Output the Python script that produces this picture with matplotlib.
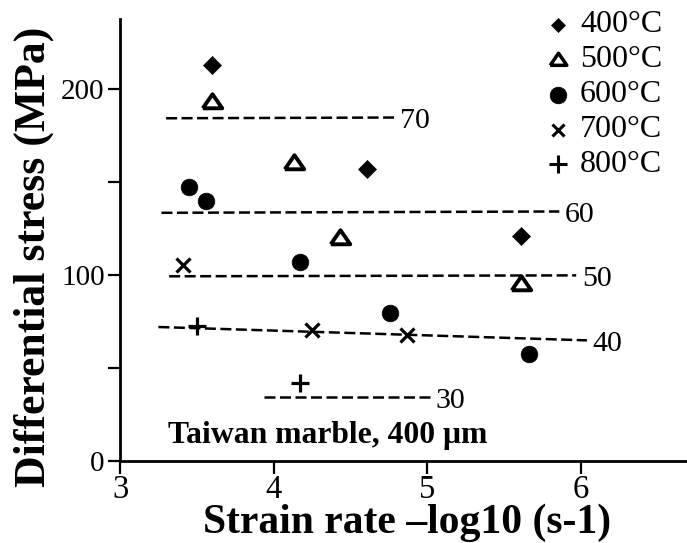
import matplotlib
matplotlib.use("Agg")
import matplotlib.pyplot as plt
from matplotlib.markers import MarkerStyle

plt.rcParams['font.family'] = ['Liberation Serif', 'DejaVu Serif']

# Temperature series: strain rate (-log10 s^-1) and differential stress (MPa)
temps = ["400°C", "500°C", "600°C", "700°C", "800°C"]
x_400 = [3.60, 4.61, 5.61]
y_400 = [213.2, 156.9, 121.0]
x_500 = [3.60, 4.13, 4.43, 5.61]
y_500 = [193.5, 161.0, 120.2, 95.5]
x_600 = [3.45, 3.56, 4.17, 4.76, 5.66]
y_600 = [147.2, 139.7, 107.2, 79.4, 57.3]
x_700 = [3.41, 4.25, 4.87]
y_700 = [105.4, 70.4, 67.7]
x_800 = [3.50, 4.17]
y_800 = [72.5, 41.7]

# Dashed reference lines with their labels
ref_labels = ["70", "60", "50", "40", "30"]
ref_x0 = [3.30, 3.27, 3.32, 3.25, 3.94]
ref_x1 = [4.79, 5.86, 5.97, 6.04, 5.02]
ref_y0 = [184.4, 133.5, 99.3, 72.0, 34.4]
ref_y1 = [184.8, 134.2, 99.8, 64.8, 34.4]

x_ticks = [3, 4, 5, 6]
y_ticks = [0, 50, 100, 150, 200]
y_tick_labels = ["0", "", "100", "", "200"]

tri = MarkerStyle([(-1, -0.7), (1, -0.7), (0, 0.75), (-1, -0.7)])
styles = [
    dict(marker="D", ms=9.5, mfc="black", mec="black", mew=0.5),
    dict(marker=tri, ms=14, mfc="none", mec="black", mew=2.8),
    dict(marker="o", ms=12, mfc="black", mec="black", mew=0.5),
    dict(marker="x", ms=9.5, mfc="none", mec="black", mew=2.3),
    dict(marker="+", ms=12.5, mfc="none", mec="black", mew=2.3),
]
legend_styles = [
    dict(marker="D", ms=7.5, mfc="black", mec="black", mew=0.5),
    dict(marker=tri, ms=12, mfc="none", mec="black", mew=2.5),
    dict(marker="o", ms=12, mfc="black", mec="black", mew=0.5),
    dict(marker="x", ms=9, mfc="none", mec="black", mew=2.2),
    dict(marker="+", ms=13, mfc="none", mec="black", mew=2.2),
]
xs = [x_400, x_500, x_600, x_700, x_800]
ys = [y_400, y_500, y_600, y_700, y_800]

fig = plt.figure(figsize=(6.87, 5.43), dpi=100)
ax = fig.add_axes([120 / 687, 1 - 460.7 / 543, 567 / 687, 441.7 / 543])

for x0, x1, y0, y1, lab in zip(ref_x0, ref_x1, ref_y0, ref_y1, ref_labels):
    ax.plot([x0, x1], [y0, y1], color="black", lw=1.8, dashes=(4.4, 1.8))
    ax.annotate(lab, xy=(x1, y1), xytext=(4, -7.8), textcoords="offset points",
                ha="left", va="baseline", fontsize=21.5)

for x, y, st in zip(xs, ys, styles):
    ax.plot(x, y, ls="none", **st, zorder=3)

# Legend drawn row by row in axes coordinates
row0 = (460.7 - 24.5) / 441.7
step = 35.0 / 441.7
for i, (lab, st) in enumerate(zip(temps, legend_styles)):
    yy = row0 - i * step
    ax.plot([(558 - 120) / 567], [yy], ls="none", transform=ax.transAxes,
            clip_on=False, **st)
    ax.text((580 - 120) / 567, yy - 7.2 / 441.7, lab, transform=ax.transAxes,
            ha="left", va="baseline", fontsize=23)

ax.text(3.31, 13.6, "Taiwan marble, 400 μm", fontsize=22.8, fontweight="bold",
        ha="left", va="center")

ax.set_xlim(3, 3 + 567 / 153.6)
ax.set_ylim(0, 441.7 / 1.857)
ax.set_xticks(x_ticks)
ax.set_xticklabels([str(t) for t in x_ticks], fontsize=23.5)
ax.set_yticks(y_ticks)
ax.set_yticklabels(y_tick_labels, fontsize=21)
ax.tick_params(axis="both", direction="out", length=9, width=1.6, color="black")
ax.tick_params(axis="x", pad=1)
ax.tick_params(axis="y", pad=2)
for side in ("top", "right"):
    ax.spines[side].set_visible(False)
for side in ("left", "bottom"):
    ax.spines[side].set_linewidth(2.0)

fig.text(407 / 687, 1 - 533 / 543, "Strain rate –log10 (s-1)", fontsize=30,
         fontweight="bold", ha="center", va="baseline")
fig.text(34 / 687, 1 - 257 / 543, "Differential stress (MPa)", fontsize=31.5,
         fontweight="bold", ha="center", va="center", rotation=90)

fig.savefig("out.png", dpi=100)
